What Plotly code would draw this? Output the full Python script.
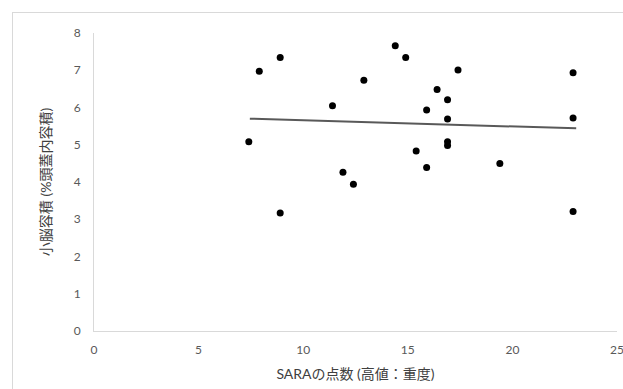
import plotly.graph_objects as go

sara_score = [7.4, 7.9, 8.9, 8.9, 11.4, 11.9, 12.4, 12.9, 14.4, 14.9, 15.4, 15.9,
              15.9, 16.4, 16.9, 16.9, 16.9, 16.9, 17.4, 19.4, 22.9, 22.9, 22.9]
cereb_volume = [5.08, 6.97, 7.34, 3.17, 6.05, 4.26, 3.94, 6.73, 7.66, 7.34, 4.83, 5.93,
                4.39, 6.48, 6.21, 5.69, 5.08, 4.98, 7.01, 4.50, 6.93, 5.72, 3.21]
trend_x = [7.45, 23.05]
trend_y = [5.70, 5.44]
x_ticks = [0, 5, 10, 15, 20, 25]
y_ticks = [0, 1, 2, 3, 4, 5, 6, 7, 8]
x_title = "SARAの点数 (高値：重度)"
y_title = "小脳容積 (%頭蓋内容積)"

FONT = "Lato, 'Noto Sans CJK JP', sans-serif"

fig = go.Figure()
fig.add_trace(go.Scatter(x=trend_x, y=trend_y, mode="lines",
                         line=dict(color="#595959", width=2), hoverinfo="skip"))
fig.add_trace(go.Scatter(x=sara_score, y=cereb_volume, mode="markers",
                         marker=dict(color="black", size=7)))

fig.update_layout(
    width=623, height=389,
    margin=dict(l=94, r=6, t=33, b=58),
    paper_bgcolor="white", plot_bgcolor="white",
    showlegend=False,
    font=dict(family=FONT, size=12, color="#595959"),
    xaxis=dict(range=[0, 25], tickvals=x_ticks, showgrid=False, zeroline=False,
               showline=True, linecolor="#d9d9d9", linewidth=1,
               ticks="outside", ticklen=8, tickcolor="rgba(0,0,0,0)",
               automargin=False, ticklabeloverflow="allow",
               title=dict(text=x_title, font=dict(size=14, color="#404040"), standoff=12)),
    yaxis=dict(range=[0, 8], tickvals=y_ticks, showgrid=False, zeroline=False,
               showline=True, linecolor="#d9d9d9", linewidth=1,
               ticks="outside", ticklen=10, tickcolor="rgba(0,0,0,0)",
               automargin=False,
               title=dict(text=y_title, font=dict(size=14, color="#404040"), standoff=18)),
)

frame_js = (
    "document.body.style.margin='0px';"
    "document.body.style.overflow='hidden';"
    "var d=document.createElement('div');"
    "d.style.cssText='position:absolute;left:12px;top:12px;width:611px;height:377px;"
    "border-left:1px solid #d9d9d9;border-top:1px solid #d9d9d9;"
    "pointer-events:none;box-sizing:border-box;';"
    "document.body.appendChild(d);"
)

fig.write_html("out.html", config={"displayModeBar": False}, post_script=frame_js)
